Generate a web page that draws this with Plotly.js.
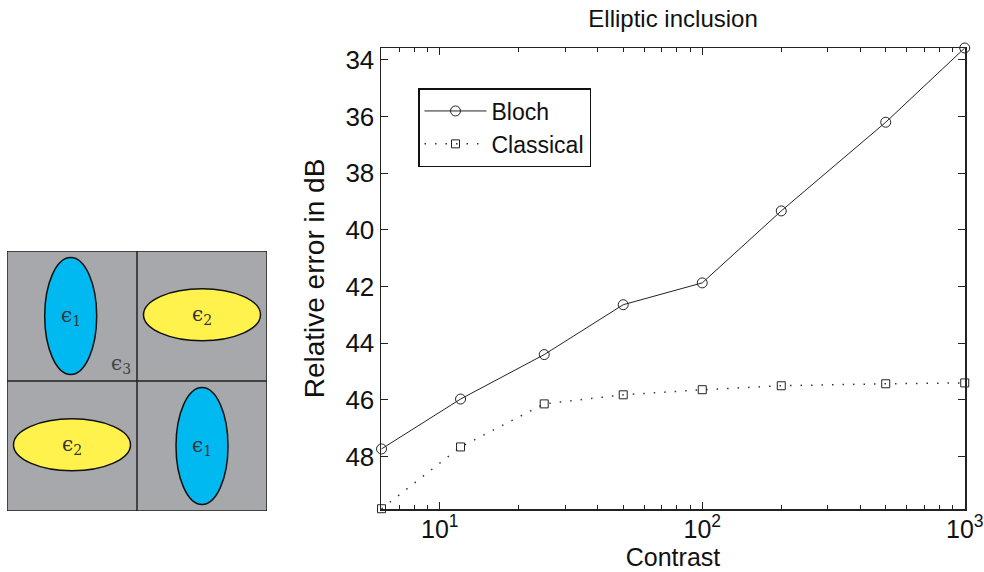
<!DOCTYPE html>
<html>
<head>
<meta charset="utf-8">
<script src="https://cdn.plot.ly/plotly-3.0.1.min.js"></script>
<style>html,body{margin:0;padding:0;background:#fff;}#chart{width:984px;height:572px;}</style>
</head>
<body>
<div id="chart"></div>
<script>
// Data
const contrast = [6, 12, 25, 50, 100, 200, 500, 1000];
const bloch = [47.73, 45.97, 44.40, 42.64, 41.87, 39.33, 36.20, 33.58];
const classical = [49.84, 47.66, 46.14, 45.82, 45.64, 45.50, 45.43, 45.40];
const xTickVals = [10, 100, 1000];
const xTickText = ['10<sup>1</sup>', '10<sup>2</sup>', '10<sup>3</sup>'];
const yTickVals = [34, 36, 38, 40, 42, 44, 46, 48];
const minorVals = [7, 8, 9, 20, 30, 40, 50, 60, 70, 80, 90, 200, 300, 400, 500, 600, 700, 800, 900];

// Illustration (left panel): ellipses in cell units, y measured downward
const ellipses = [
  {cx: 0.49, cy: 0.50, rx: 0.20, ry: 0.45, color: '#00b9f0', label: 'ϵ<sub>1</sub>'},
  {cx: 1.50, cy: 0.49, rx: 0.45, ry: 0.20, color: '#fff24d', label: 'ϵ<sub>2</sub>'},
  {cx: 0.50, cy: 1.49, rx: 0.45, ry: 0.20, color: '#fff24d', label: 'ϵ<sub>2</sub>'},
  {cx: 1.50, cy: 1.50, rx: 0.20, ry: 0.45, color: '#00b9f0', label: 'ϵ<sub>1</sub>'}
];

const font = 'Liberation Sans, Arial, Helvetica, sans-serif';

const traces = [
  {
    x: contrast, y: bloch, name: 'Bloch', type: 'scatter', mode: 'lines+markers',
    line: {color: '#222', width: 1},
    marker: {symbol: 'circle-open', size: 10, color: '#222', line: {width: 1, color: '#222'}},
    xaxis: 'x', yaxis: 'y', cliponaxis: false
  },
  {
    x: contrast, y: classical, name: 'Classical', type: 'scatter', mode: 'lines+markers',
    line: {color: '#333', width: 1.5, dash: '1.5px,9px'},
    marker: {symbol: 'square-open', size: 8, color: '#222', line: {width: 1, color: '#222'}},
    xaxis: 'x', yaxis: 'y', cliponaxis: false
  }
];

const shapes = [];
const annotations = [];
// gray background square
shapes.push({type: 'rect', xref: 'x2', yref: 'y2', x0: 0, x1: 2, y0: 0, y1: 2,
  fillcolor: '#a7a8ab', line: {color: '#222', width: 1.5}, layer: 'below'});
ellipses.forEach(e => {
  shapes.push({type: 'circle', xref: 'x2', yref: 'y2',
    x0: e.cx - e.rx, x1: e.cx + e.rx, y0: e.cy - e.ry, y1: e.cy + e.ry,
    fillcolor: e.color, line: {color: '#111', width: 1.5}});
  annotations.push({xref: 'x2', yref: 'y2', x: e.cx, y: e.cy, text: e.label, showarrow: false,
    font: {family: 'DejaVu Serif, serif', size: 20, color: '#333'}});
});
shapes.push({type: 'line', xref: 'x2', yref: 'y2', x0: 1, x1: 1, y0: 0, y1: 2, line: {color: '#222', width: 1.5}});
shapes.push({type: 'line', xref: 'x2', yref: 'y2', x0: 0, x1: 2, y0: 1, y1: 1, line: {color: '#222', width: 1.5}});
annotations.push({xref: 'x2', yref: 'y2', x: 0.88, y: 0.87, text: 'ϵ<sub>3</sub>', showarrow: false,
  font: {family: 'DejaVu Serif, serif', size: 20, color: '#444'}});

const layout = {
  width: 984, height: 572,
  margin: {l: 0, r: 0, t: 0, b: 0},
  paper_bgcolor: '#fff', plot_bgcolor: '#fff',
  font: {family: font, color: '#111', size: 24},
  showlegend: true,
  title: {text: 'Elliptic inclusion', x: 0.684, xanchor: 'center', y: 0.968, yanchor: 'middle',
    font: {family: font, size: 24, color: '#111'}},
  xaxis: {
    type: 'log', domain: [381/984, 965/984], range: [Math.log10(6) - 0.002, 3.001],
    tickmode: 'array', tickvals: xTickVals, ticktext: xTickText,
    ticklabeloverflow: 'allow', ticklabelstandoff: -3,
    ticks: 'inside', ticklen: 7, tickcolor: '#222', tickwidth: 1,
    minor: {tickmode: 'array', tickvals: minorVals, ticks: 'inside', ticklen: 4, tickcolor: '#222', showgrid: false},
    showline: true, linecolor: '#222', linewidth: 1.5, mirror: 'ticks',
    showgrid: false, zeroline: false,
    tickfont: {size: 25, family: font},
    title: {text: 'Contrast', font: {size: 25, family: font}, standoff: 4},
    anchor: 'y'
  },
  yaxis: {
    domain: [1 - 509/572, 1 - 48/572], range: [49.85, 33.58],
    tickmode: 'array', tickvals: yTickVals,
    ticks: 'inside', ticklen: 7, tickcolor: '#222', tickwidth: 1,
    showline: true, linecolor: '#222', linewidth: 1.5, mirror: 'ticks',
    showgrid: false, zeroline: false,
    tickfont: {size: 26, family: font},
    title: {text: 'Relative error in dB', font: {size: 28, family: font}, standoff: 12},
    anchor: 'x'
  },
  xaxis2: {domain: [7/984, 267/984], range: [0, 2], visible: false, anchor: 'y2', fixedrange: true},
  yaxis2: {domain: [1 - 511/572, 1 - 251/572], range: [2, 0], visible: false, anchor: 'x2', fixedrange: true},
  legend: {
    x: 418/984, y: 1 - 88/572, xanchor: 'left', yanchor: 'top',
    bgcolor: '#fff', bordercolor: '#111', borderwidth: 1.5,
    font: {size: 23, family: font, color: '#111'},
    itemwidth: 62, tracegroupgap: 0
  },
  shapes: shapes,
  annotations: annotations
};

Plotly.newPlot('chart', traces, layout, {displayModeBar: false, staticPlot: true});
</script>
</body>
</html>
